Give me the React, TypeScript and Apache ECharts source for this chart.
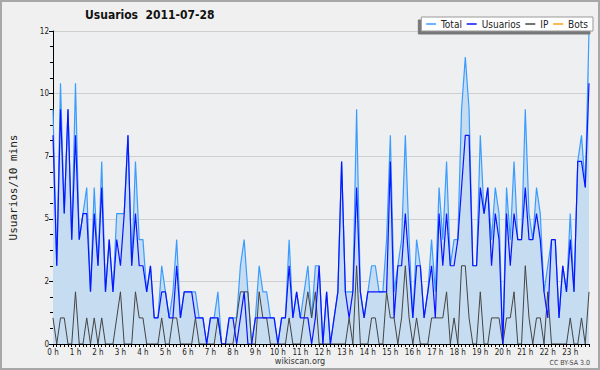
import React, { useEffect, useRef } from "react";
import * as echarts from "echarts";

const hourLabels = ["0 h","1 h","2 h","3 h","4 h","5 h","6 h","7 h","8 h","9 h","10 h","11 h","12 h","13 h","14 h","15 h","16 h","17 h","18 h","19 h","20 h","21 h","22 h","23 h"];
const minuteSteps = ["00","10","20","30","40","50"];

const totalValues = [
  9,3,10,5,9,4,10,4,5,6, 2,6,3,7,2,4,2,5,5,5, 8,3,7,4,4,2,3,1,1,3,
  2,1,2,4,1,2,2,2,2,1, 1,0,1,1,2,0,0,1,1,1, 3,4,2,0,1,3,2,2,1,1,
  0,1,1,4,1,2,1,2,3,1, 3,3,0,2,0,1,2,7,2,2, 2,9,2,1,2,3,3,2,2,4,
  8,2,3,4,8,4,1,4,3,1, 2,4,2,6,4,7,3,4,4,9, 11,9,3,3,8,5,6,4,6,5,
  0,6,4,7,4,4,9,5,4,6, 5,2,3,4,4,1,3,2,5,2, 7,8,6,12
];
const usuariosValues = [
  8,3,9,5,9,4,8,4,5,5, 2,5,3,6,2,4,2,4,3,5, 8,3,5,3,3,2,3,1,1,2,
  2,1,1,3,1,2,2,2,1,1, 1,0,1,1,1,0,0,1,1,0, 1,2,0,0,1,1,1,1,1,1,
  0,1,1,3,1,2,1,1,1,0, 1,3,0,2,0,1,2,7,2,1, 2,6,2,1,2,2,2,2,2,2,
  7,1,3,3,5,3,1,3,3,1, 2,3,1,5,3,5,3,3,4,6, 8,8,3,3,6,5,6,3,5,4,
  0,5,3,5,4,4,6,4,4,5, 4,2,1,4,4,1,3,2,4,2, 7,7,6,10
];
const ipValues = [
  1,0,1,1,0,0,2,0,0,1, 0,1,0,1,0,0,0,1,2,0, 0,0,2,1,1,0,0,0,0,1,
  0,0,1,1,0,0,0,0,1,0, 0,0,0,0,1,0,0,0,0,1, 2,2,2,0,0,2,1,1,0,0,
  0,0,0,1,0,0,0,1,2,1, 2,0,0,0,0,0,0,0,0,1, 0,3,0,0,0,1,1,0,0,2,
  1,1,0,1,3,1,0,1,0,0, 0,1,1,1,1,2,0,1,0,3, 3,1,0,0,2,0,0,1,1,1,
  0,1,1,2,0,0,3,1,0,1, 1,0,2,0,0,0,0,0,1,0, 0,1,0,2
];
const botsValues = [
  0,0,0,0,0,0,0,0,0,0, 0,0,0,0,0,0,0,0,0,0, 0,0,0,0,0,0,0,0,0,0,
  0,0,0,0,0,0,0,0,0,0, 0,0,0,0,0,0,0,0,0,0, 0,0,0,0,0,0,0,0,0,0,
  0,0,0,0,0,0,0,0,0,0, 0,0,0,0,0,0,0,0,0,0, 0,0,0,0,0,0,0,0,0,0,
  0,0,0,0,0,0,0,0,0,0, 0,0,0,0,0,0,0,0,0,0, 0,0,0,0,0,0,0,0,0,0,
  0,0,0,0,0,0,0,0,0,0, 0,0,0,0,0,0,0,0,0,0, 0,0,0,0
];
const seriesNames = ["Total", "Usuarios", "IP", "Bots"];
const seriesColors = ["#3b9cff", "#0a14ff", "#444444", "#ffa21a"];

const slots: string[] = [];
hourLabels.forEach((h, hi) => minuteSteps.forEach((m) => slots.push(hi + ":" + m)));

const FONT = "'DejaVu Sans Condensed', 'DejaVu Sans', sans-serif";

export default function App() {
  const ref = useRef<HTMLDivElement>(null);
  useEffect(() => {
    document.body.style.margin = "0";
    const chart = echarts.init(ref.current!, null, { renderer: "svg" });
    chart.setOption({
      animation: false,
      backgroundColor: "#f0f0f0",
      title: {
        text: "Usuarios  2011-07-28",
        left: 85,
        top: 9,
        padding: 0,
        textStyle: { fontFamily: FONT, fontSize: 12, fontWeight: "bold", color: "#111" },
      },
      legend: {
        data: seriesNames,
        right: 7,
        top: 17,
        padding: [2, 5, 2, 4],
        itemWidth: 10,
        itemHeight: 10,
        itemGap: 4,
        itemStyle: { opacity: 0 },
        lineStyle: { width: 1.5 },
        backgroundColor: "#ffffff",
        borderColor: "#999",
        borderWidth: 1,
        shadowColor: "#777",
        shadowBlur: 0,
        shadowOffsetX: -3,
        shadowOffsetY: 3,
        textStyle: { fontFamily: FONT, fontSize: 10, color: "#222" },
      },
      grid: {
        left: 46,
        right: 11,
        top: 31,
        bottom: 26,
        show: true,
        backgroundColor: "#edeff1",
        borderWidth: 0,
      },
      xAxis: {
        type: "category",
        boundaryGap: false,
        data: slots,
        z: 5,
        axisLine: { lineStyle: { color: "#000", width: 1 } },
        axisTick: { show: true, interval: 0, length: 3, lineStyle: { color: "#000" } },
        axisLabel: {
          interval: (index: number) => index % 6 === 0,
          formatter: (_v: string, index: number) => hourLabels[Math.floor(index / 6)],
          fontFamily: FONT,
          fontSize: 8,
          color: "#222",
          margin: 4,
        },
        splitLine: { show: false },
      },
      yAxis: {
        type: "value",
        min: 0,
        max: 12,
        interval: 2.4,
        name: "Usuarios/10 mins",
        nameLocation: "middle",
        nameGap: 34,
        nameTextStyle: { fontFamily: "'DejaVu Sans Mono', monospace", fontSize: 11, color: "#222" },
        axisLine: { show: true, lineStyle: { color: "#000", width: 1 } },
        axisTick: { show: true, length: 4, lineStyle: { color: "#000" } },
        minorTick: { show: true, splitNumber: 4, length: 3, lineStyle: { color: "#000" } },
        splitLine: { show: true, lineStyle: { color: "#cfcfcf", width: 1 } },
        axisLabel: {
          formatter: (v: number) => String(Math.round(v)),
          fontFamily: FONT,
          fontSize: 8,
          color: "#222",
          margin: 4,
        },
      },
      series: [
        {
          name: seriesNames[0],
          type: "line",
          data: totalValues,
          symbol: "none",
          lineStyle: { color: seriesColors[0], width: 1.2 },
          itemStyle: { color: seriesColors[0] },
          areaStyle: { color: "#c6dcf0", opacity: 1 },
          z: 2,
        },
        {
          name: seriesNames[1],
          type: "line",
          data: usuariosValues,
          symbol: "none",
          lineStyle: { color: seriesColors[1], width: 1.2 },
          itemStyle: { color: seriesColors[1] },
          z: 4,
        },
        {
          name: seriesNames[2],
          type: "line",
          data: ipValues,
          symbol: "none",
          lineStyle: { color: seriesColors[2], width: 1 },
          itemStyle: { color: seriesColors[2] },
          z: 3,
        },
        {
          name: seriesNames[3],
          type: "line",
          data: botsValues,
          symbol: "none",
          lineStyle: { color: seriesColors[3], width: 1.2 },
          itemStyle: { color: seriesColors[3] },
          z: 1,
        },
      ],
      graphic: [
        {
          type: "rect",
          shape: { x: 1, y: 1, width: 598, height: 368 },
          style: { fill: "none", stroke: "#a8a8a8", lineWidth: 2 },
          silent: true,
        },
        {
          type: "text",
          x: 300,
          y: 356,
          style: { text: "wikiscan.org", fontFamily: FONT, fontSize: 9, fill: "#333", textAlign: "center" },
        },
        {
          type: "text",
          x: 590,
          y: 359,
          style: { text: "CC BY-SA 3.0", fontFamily: FONT, fontSize: 7, fill: "#444", textAlign: "right" },
        },
      ],
    });
    return () => chart.dispose();
  }, []);
  return <div ref={ref} style={{ width: 600, height: 370 }} />;
}
